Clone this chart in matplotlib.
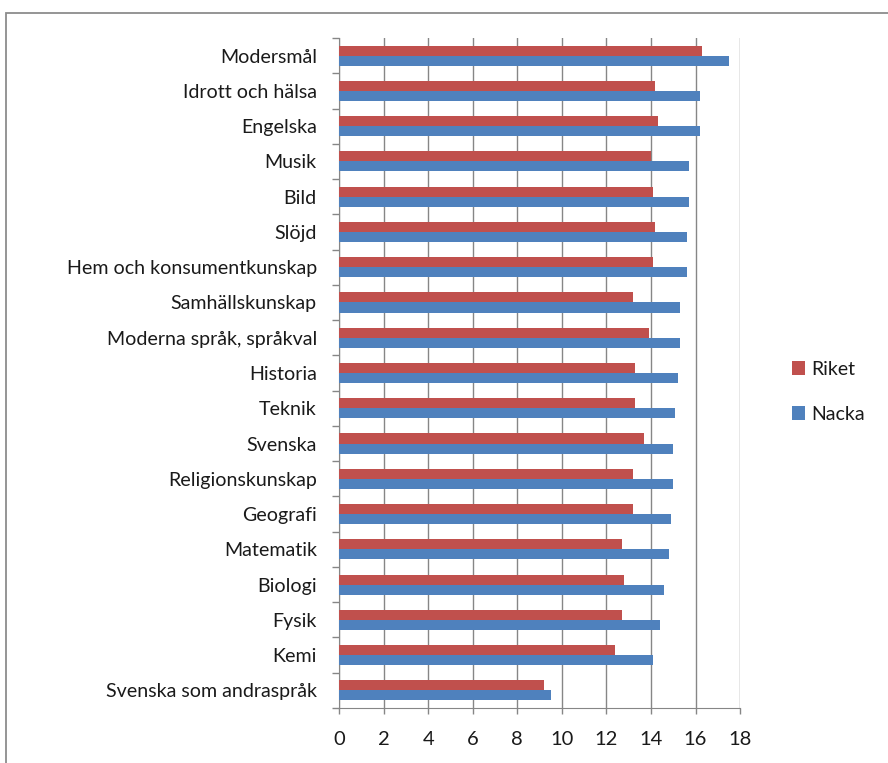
import numpy as np
import matplotlib.pyplot as plt
from matplotlib.patches import Rectangle

plt.rcParams['font.family'] = ['Lato', 'DejaVu Sans']

subjects = ['Modersmål', 'Idrott och hälsa', 'Engelska', 'Musik', 'Bild', 'Slöjd',
            'Hem och konsumentkunskap', 'Samhällskunskap', 'Moderna språk, språkval',
            'Historia', 'Teknik', 'Svenska', 'Religionskunskap', 'Geografi',
            'Matematik', 'Biologi', 'Fysik', 'Kemi', 'Svenska som andraspråk']
riket = [16.3, 14.2, 14.3, 14.0, 14.1, 14.2, 14.1, 13.2, 13.9, 13.3,
         13.3, 13.7, 13.2, 13.2, 12.7, 12.8, 12.7, 12.4, 9.2]
nacka = [17.5, 16.2, 16.2, 15.7, 15.7, 15.6, 15.6, 15.3, 15.3, 15.2,
         15.1, 15.0, 15.0, 14.9, 14.8, 14.6, 14.4, 14.1, 9.5]
xticks = list(range(0, 19, 2))

red = '#c0504d'
blue = '#4f81bd'
grey = '#868686'

fig = plt.figure(figsize=(8.88, 7.63), dpi=100)
# outer chart border (only top and left visible in the crop)
fig.patches.append(Rectangle((0.0065, -0.1), 1.2, 1.0834, transform=fig.transFigure,
                             fill=False, edgecolor='#8c8c8c', linewidth=1.3))
ax = fig.add_axes([0.3818, 0.0721, 0.4516, 0.8781])

y = np.arange(len(subjects))
h = 0.285
ax.barh(y - h / 2, riket, height=h, color=red, label='Riket', zorder=3)
ax.barh(y + h / 2, nacka, height=h, color=blue, label='Nacka', zorder=3)

ax.set_ylim(len(subjects) - 0.5, -0.5)
ax.set_xlim(0, 18)
ax.set_xticks(xticks)
ax.xaxis.grid(True, color=grey, linewidth=1.0, zorder=0)

ax.set_yticks(np.arange(len(subjects) + 1) - 0.5)
ax.set_yticklabels([])
ax.set_yticks(y, minor=True)
ax.set_yticklabels(subjects, minor=True, fontsize=14.1, color='#1a1a1a')
ax.tick_params(axis='y', which='minor', length=0, pad=16)
ax.tick_params(axis='y', which='major', length=5, color=grey, width=1)
ax.tick_params(axis='x', length=4.5, color=grey, width=1, labelsize=14.5,
               labelcolor='#1a1a1a', pad=12)

for s in ['top', 'right']:
    ax.spines[s].set_visible(False)
for s in ['left', 'bottom']:
    ax.spines[s].set_color(grey)

ax.legend(loc='center left', bbox_to_anchor=(1.085, 0.472), frameon=False,
          fontsize=14, handlelength=0.7, handleheight=0.7, labelspacing=1.45,
          handletextpad=0.3, labelcolor='#1a1a1a')

fig.savefig('out.png', dpi=100)
